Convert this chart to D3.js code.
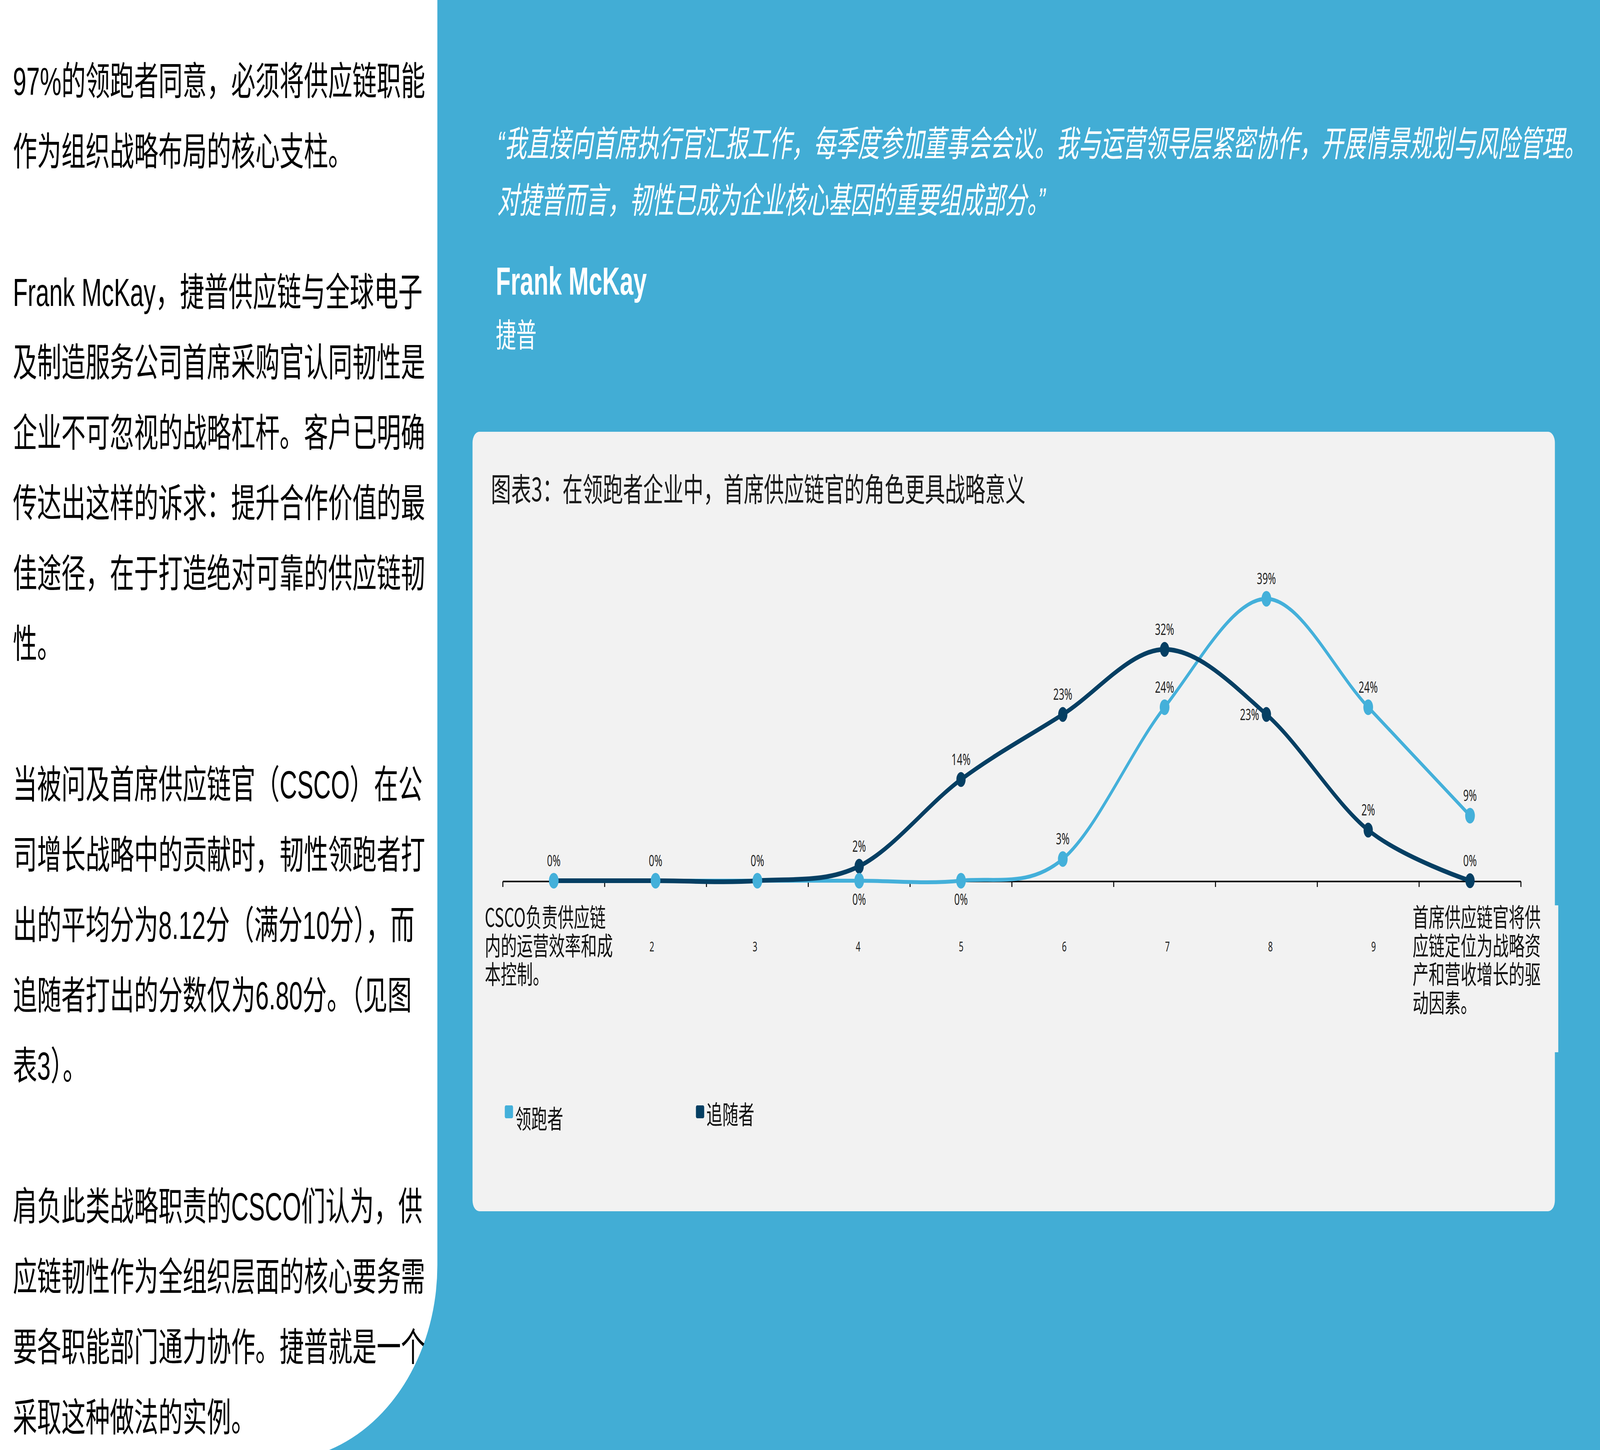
<!DOCTYPE html>
<html>
<head>
<meta charset="utf-8">
<script src="https://cdnjs.cloudflare.com/ajax/libs/d3/7.8.5/d3.min.js"></script>
<style>
  html, body { margin: 0; padding: 0; background: #42add5; overflow: hidden; width: 100%; height: 100%; }
  svg { display: block; width: 100vw; height: 100vh; }
</style>
</head>
<body>
<svg id="page"></svg>
<script>
// chart data
const categories = [1, 2, 3, 4, 5, 6, 7, 8, 9, 10];
const categoryLabels = [
  ["CSCO负责供应链", "内的运营效率和成", "本控制。"],
  ["2"], ["3"], ["4"], ["5"], ["6"], ["7"], ["8"], ["9"],
  ["首席供应链官将供", "应链定位为战略资", "产和营收增长的驱", "动因素。"]
];
const leaderValues = [0, 0, 0, 0, 0, 3, 24, 39, 24, 9];
const followerValues = [0, 0, 0, 2, 14, 23, 32, 23, 7, 0];
const leaderLabels = [null, null, null, "0%", "0%", "3%", "24%", "39%", "24%", "9%"];
const followerLabels = ["0%", "0%", "0%", "2%", "14%", "23%", "32%", "23%", "2%", "0%"];
const seriesNames = ["领跑者", "追随者"];

// page text
const bodyLines = [
  "97%的领跑者同意，必须将供应链职能",
  "作为组织战略布局的核心支柱。",
  "",
  "Frank McKay，捷普供应链与全球电子",
  "及制造服务公司首席采购官认同韧性是",
  "企业不可忽视的战略杠杆。客户已明确",
  "传达出这样的诉求：提升合作价值的最",
  "佳途径，在于打造绝对可靠的供应链韧",
  "性。",
  "",
  "当被问及首席供应链官（CSCO）在公",
  "司增长战略中的贡献时，韧性领跑者打",
  "出的平均分为8.12分（满分10分），而",
  "追随者打出的分数仅为6.80分。（见图",
  "表3）。",
  "",
  "肩负此类战略职责的CSCO们认为，供",
  "应链韧性作为全组织层面的核心要务需",
  "要各职能部门通力协作。捷普就是一个",
  "采取这种做法的实例。"
];
const quoteLines = [
  "“我直接向首席执行官汇报工作，每季度参加董事会会议。我与运营领导层紧密协作，开展情景规划与风险管理。",
  "对捷普而言，韧性已成为企业核心基因的重要组成部分。”"
];
const chartTitle = "图表3：在领跑者企业中，首席供应链官的角色更具战略意义";

const W = 6596, H = 3711;
const BLUE = "#42add5", LIGHT = "#44b0da", DARK = "#053f63", PANEL = "#f2f2f2";
const CJK = "'Noto Sans CJK SC', sans-serif";
const MIXED = "'Liberation Sans', 'Noto Sans CJK SC', sans-serif";

const svg = d3.select("#page")
  .attr("viewBox", `0 0 ${W} ${H}`)
  .attr("preserveAspectRatio", "none");

svg.append("rect").attr("width", W).attr("height", H).attr("fill", BLUE);

// white text column with the big rounded corner
svg.append("path")
  .attr("d", "M0,0 H1803 V3238 A660,500 0 0 1 1357,3711 H0 Z")
  .attr("fill", "#ffffff");

svg.append("g")
  .selectAll("text")
  .data(bodyLines)
  .join("text")
  .attr("x", 53)
  .attr("y", (d, i) => 243 + i * 180)
  .attr("font-family", MIXED)
  .attr("font-size", 100)
  .attr("fill", "#000")
  .text(d => d);

// quote block
svg.append("g")
  .selectAll("text")
  .data(quoteLines)
  .join("text")
  .attr("x", 2050)
  .attr("y", (d, i) => 400 + i * 145)
  .attr("font-family", MIXED)
  .attr("font-style", "italic")
  .attr("font-size", 91)
  .attr("fill", "#ffffff")
  .text(d => d);

svg.append("text")
  .attr("x", 2044).attr("y", 754)
  .attr("font-family", "'Liberation Sans', Arial, sans-serif")
  .attr("font-weight", "bold")
  .attr("font-size", 100)
  .attr("fill", "#ffffff")
  .text("Frank McKay");

svg.append("text")
  .attr("x", 2044).attr("y", 888)
  .attr("font-family", CJK)
  .attr("font-size", 84)
  .attr("fill", "#ffffff")
  .text("捷普");

// chart panel
svg.append("rect")
  .attr("x", 1948).attr("y", 1105)
  .attr("width", 4462).attr("height", 1995)
  .attr("rx", 28)
  .attr("fill", PANEL);
// label box spilling past the right edge
svg.append("rect")
  .attr("x", 6380).attr("y", 2317)
  .attr("width", 44).attr("height", 376)
  .attr("fill", PANEL);

svg.append("text")
  .attr("x", 2024).attr("y", 1283)
  .attr("font-family", CJK)
  .attr("font-size", 83)
  .attr("fill", "#1a1a1a")
  .text(chartTitle);

// scales
const x = d3.scaleBand().domain(categories).range([2073, 6270]).padding(0);
// category text sits on a slightly wider band than the plot
const xLabel = d3.scaleBand().domain(categories).range([2050, 6300]).padding(0);
const y = d3.scaleLinear().domain([0, 40]).range([2254, 1514]);
const cx = c => x(c) + x.bandwidth() / 2;
const lx = c => xLabel(c) + xLabel.bandwidth() / 2;

const g = svg.append("g").attr("class", "plot");

// category axis
g.append("line")
  .attr("x1", x.range()[0]).attr("x2", x.range()[1])
  .attr("y1", y(0) + 2).attr("y2", y(0) + 2)
  .attr("stroke", "#000").attr("stroke-width", 4);

const tickEdges = categories.map(c => x(c)).concat([x.range()[1]]);
g.append("g")
  .selectAll("line")
  .data(tickEdges)
  .join("line")
  .attr("x1", d => d).attr("x2", d => d)
  .attr("y1", y(0) + 2).attr("y2", y(0) + 16)
  .attr("stroke", "#000").attr("stroke-width", 4);

const labelG = g.append("g").attr("class", "cat-labels");
categories.forEach((c, i) => {
  const lines = categoryLabels[i];
  if (lines.length === 1) {
    labelG.append("text")
      .attr("x", lx(c)).attr("y", 2435)
      .attr("text-anchor", "middle")
      .attr("font-family", "'Noto Sans', sans-serif")
      .attr("font-size", 34)
      .attr("fill", "#222")
      .text(lines[0]);
  } else {
    const t = labelG.append("text")
      .attr("font-family", CJK)
      .attr("font-size", 66)
      .attr("fill", "#111");
    lines.forEach((ln, j) => {
      t.append("tspan").attr("y", 2372 + j * 73).text(ln);
    });
    const wMax = d3.max(t.selectAll("tspan").nodes(), n => n.getComputedTextLength());
    t.selectAll("tspan").attr("x", lx(c) - wMax / 2);
  }
});

// series
const series = [
  { name: seriesNames[0], values: leaderValues, labels: leaderLabels, color: LIGHT, width: 10, r: 20,
    place: ["none", "none", "none", "below", "below", "above", "above", "above", "above", "above"] },
  { name: seriesNames[1], values: followerValues, labels: followerLabels, color: DARK, width: 12, r: 19,
    place: ["above", "above", "above", "above", "above", "above", "above", "left", "above", "above"] }
];

const line = d3.line()
  .x((d, i) => cx(categories[i]))
  .y(d => y(d))
  .curve(d3.curveCardinal.tension(0));

// leader line first so the follower line sits on top
series.forEach(s => {
  g.append("path")
    .attr("d", line(s.values))
    .attr("fill", "none")
    .attr("stroke", s.color)
    .attr("stroke-width", s.width)
    .attr("stroke-linecap", "round");
});

// markers: follower under leader
[series[1], series[0]].forEach(s => {
  g.append("g")
    .selectAll("circle")
    .data(s.values)
    .join("circle")
    .attr("cx", (d, i) => cx(categories[i]))
    .attr("cy", d => y(d))
    .attr("r", s.r)
    .attr("fill", s.color);
});

series.forEach(s => {
  s.values.forEach((v, i) => {
    const p = s.place[i];
    if (!s.labels[i] || p === "none") return;
    let tx = cx(categories[i]), ty = y(v) - 37, anchor = "middle";
    if (p === "below") ty = y(v) + 62;
    if (p === "left") { tx -= 30; ty = y(v) + 15; anchor = "end"; }
    g.append("text")
      .attr("x", tx).attr("y", ty)
      .attr("text-anchor", anchor)
      .attr("font-family", "'Noto Sans', sans-serif")
      .attr("font-size", 40)
      .attr("fill", "#262626")
      .text(s.labels[i]);
  });
});

// legend
const legend = [
  { name: seriesNames[0], color: LIGHT, x: 2081, ty: 2888 },
  { name: seriesNames[1], color: DARK, x: 2869, ty: 2877 }
];
const lg = svg.append("g").attr("class", "legend");
legend.forEach(d => {
  lg.append("rect")
    .attr("x", d.x).attr("y", 2829)
    .attr("width", 34).attr("height", 33)
    .attr("rx", 5)
    .attr("fill", d.color);
  lg.append("text")
    .attr("x", d.x + 43).attr("y", d.ty)
    .attr("font-family", CJK)
    .attr("font-size", 66)
    .attr("fill", "#111")
    .text(d.name);
});
</script>
</body>
</html>
